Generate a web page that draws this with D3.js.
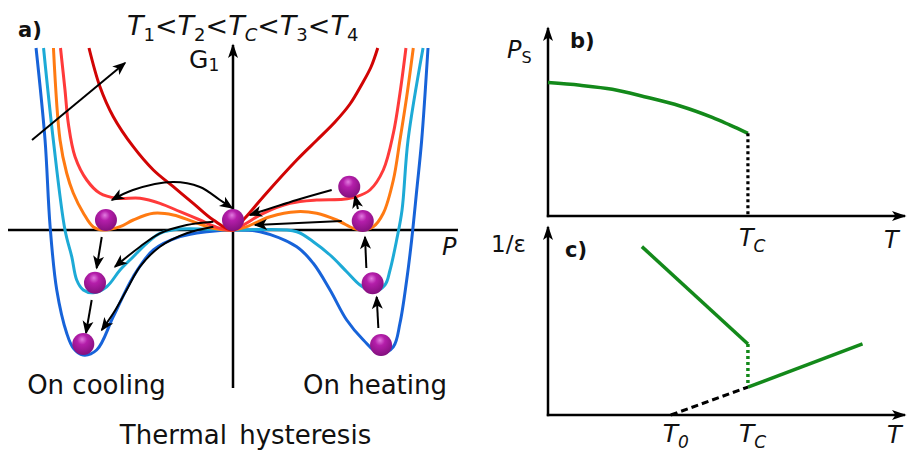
<!DOCTYPE html>
<html>
<head>
<meta charset="utf-8">
<script src="https://cdn.jsdelivr.net/npm/d3@7"></script>
<style>
  body { margin: 0; background: #fff; }
  svg { display: block; }
  text { font-family: "DejaVu Sans", Verdana, sans-serif; fill: #111; }
</style>
</head>
<body>
<svg id="chart" width="909" height="454"></svg>
<script>
// ---------- a) Landau free energy G1(P), reduced units ----------
// T1 < T2 < Tc < T3 < T4
const gT1 = [[-1.313,1.82],[-1.253,0.90],[-1.22,0.05],[-1.175,-0.60],[-1.109,-1.03],[-1.065,-1.18],[-1.0,-1.25],
  [-0.909,-1.20],[-0.798,-0.867],[-0.665,-0.467],[-0.531,-0.20],[-0.353,-0.067],[-0.175,-0.017],[0,0],
  [0.18,-0.017],[0.425,-0.167],[0.535,-0.333],[0.647,-0.60],[0.758,-0.90],[0.869,-1.10],[0.98,-1.24],
  [1.069,-1.167],[1.113,-0.933],[1.158,-0.50],[1.191,-0.10],[1.225,0.40],[1.258,0.90],[1.30,1.82]];
const gT2 = [[-1.263,1.82],[-1.198,0.90],[-1.12,0],[-1.075,-0.267],[-1.042,-0.50],[-0.998,-0.60],[-0.931,-0.627],
  [-0.842,-0.567],[-0.753,-0.40],[-0.665,-0.267],[-0.575,-0.133],[-0.487,-0.033],[-0.353,0.01],[0,0],
  [0.202,0.005],[0.425,-0.017],[0.535,-0.117],[0.647,-0.25],[0.758,-0.417],[0.847,-0.55],[0.935,-0.617],
  [1.013,-0.55],[1.047,-0.40],[1.091,-0.10],[1.127,0.20],[1.167,0.90],[1.267,1.82]];
const gTc = [[-1.197,1.82],[-1.153,0.90],[-1.109,0.57],[-1.065,0.37],[-0.998,0.17],[-0.931,0.03],[-0.865,0],
  [-0.753,0.033],[-0.665,0.10],[-0.531,0.167],[-0.398,0.15],[-0.265,0.083],[-0.131,0.017],[0,0],
  [0.091,0.033],[0.247,0.133],[0.425,0.183],[0.558,0.167],[0.691,0.10],[0.802,0.017],[0.847,0],
  [0.935,0.033],[1.002,0.167],[1.069,0.50],[1.113,0.90],[1.158,1.333],[1.202,1.82]];
const gT3 = [[-1.15,1.82],[-1.12,1.40],[-1.098,1.067],[-1.053,0.733],[-0.975,0.50],[-0.887,0.367],[-0.775,0.317],
  [-0.62,0.317],[-0.487,0.267],[-0.353,0.183],[-0.22,0.10],[-0.087,0.017],[0,0],
  [0.069,0.05],[0.202,0.167],[0.38,0.267],[0.558,0.30],[0.735,0.307],[0.825,0.333],[0.913,0.40],
  [1.002,0.60],[1.069,0.967],[1.113,1.367],[1.153,1.82]];
const gT4 = [[-0.96,1.82],[-0.887,1.433],[-0.798,1.133],[-0.665,0.833],[-0.531,0.60],[-0.398,0.433],
  [-0.265,0.267],[-0.131,0.10],[0,0],[0.08,0.12],[0.202,0.333],[0.425,0.70],[0.56,0.90],[0.68,1.08],
  [0.78,1.26],[0.86,1.46],[0.92,1.63],[0.965,1.82]];
const curveColors = ["#1763d9", "#1daad6", "#ff7a12", "#ff3a3a", "#d10404"];

// state of the system (ball centres) on cooling and on heating
const ballsCooling = [[-0.847,0.10],[-0.92,-0.527],[-0.998,-1.14]];
const ballsHeating = [[0.775,0.433],[0.865,0.09],[0.931,-0.533],[0.987,-1.15]];
const ballOrigin = [[0,0.10]];

// transition paths
const arrowsSingle = [
  [[-1.34,0.90],[-0.72,1.67]],                                               // increasing T
  [[0.658,0.40],[0.425,0.30],[0.113,0.15]],
  [[0.725,0.09],[0.147,0.05]],
  [[0.833,0.21],[0.813,0.34]],
  [[0.889,-0.38],[0.88,-0.07]],
  [[0.969,-0.98],[0.958,-0.67]],
  [[-0.875,-0.07],[-0.909,-0.38]],
  [[-0.942,-0.70],[-0.98,-1.03]],
  [[-0.131,0.083],[-0.309,0.05],[-0.487,-0.033],[-0.62,-0.167],[-0.787,-0.367]],
  [[-0.131,0.033],[-0.309,-0.033],[-0.487,-0.167],[-0.62,-0.367],[-0.709,-0.60],[-0.798,-0.833],[-0.875,-1.0]]
];
const arrowsDouble = [
  [[-0.807,0.30],[-0.667,0.40],[-0.40,0.48],[-0.22,0.43],[-0.087,0.30],[-0.007,0.22]]
];

// ---------- b) spontaneous polarisation Ps(T) ----------
const Tc = 0.56;
const T0 = 0.344;
const psT = [0, 0.09, 0.18, 0.27, 0.37, 0.46, 0.51, 0.56];
const psVal = [0.702, 0.688, 0.667, 0.628, 0.579, 0.519, 0.478, 0.435];

// ---------- c) inverse permittivity 1/eps(T) ----------
const invEpsFerro = [[0.263, 0.886], [0.56, 0.374]];
const invEpsPara = [[0.56, 0.147], [0.881, 0.374]];
const curieWeiss = [[T0, 0], [0.56, 0.147]];

// ---------------------------------------------------------------
const svg = d3.select("#chart");
const defs = svg.append("defs");

function addMarker(id, len, half, notch) {
  defs.append("marker")
    .attr("id", id)
    .attr("viewBox", `${-len - 1} ${-half - 1} ${len + 3} ${2 * half + 2}`)
    .attr("refX", 0).attr("refY", 0)
    .attr("markerWidth", len + 3).attr("markerHeight", 2 * half + 2)
    .attr("markerUnits", "userSpaceOnUse")
    .attr("orient", "auto-start-reverse")
    .append("path")
    .attr("d", `M1.5,0 L${-len},${-half} L${-len + notch},0 L${-len},${half} Z`)
    .attr("fill", "#000");
}
addMarker("headSmall", 12, 5.5, 3.5);
addMarker("headAxis", 13, 5, 3.5);

const grad = defs.append("radialGradient").attr("id", "ball")
  .attr("cx", "45%").attr("cy", "35%").attr("r", "65%").attr("fx", "45%").attr("fy", "28%");
grad.append("stop").attr("offset", "0%").attr("stop-color", "#e27be0");
grad.append("stop").attr("offset", "35%").attr("stop-color", "#b41eaa");
grad.append("stop").attr("offset", "100%").attr("stop-color", "#84107e");

function subLabel(g, px, py, main, sub, size, subSize, italicMain, italicSub, drop, anchor) {
  const t = g.append("text").attr("x", px).attr("y", py)
    .attr("font-size", size).attr("text-anchor", anchor || "start");
  t.append("tspan").text(main).attr("font-style", italicMain ? "italic" : "normal");
  t.append("tspan").text(sub).attr("font-size", subSize).attr("dy", drop)
    .attr("font-style", italicSub ? "italic" : "normal");
  return t;
}

// ===================== panel a =====================
const x = d3.scaleLinear().domain([-1.5, 1.5]).range([8, 458]);
const y = d3.scaleLinear().domain([-1.6, 1.9]).range([390, 40]);
const ga = svg.append("g");

// axes
ga.append("line").attr("x1", x(-1.5)).attr("x2", x(1.5)).attr("y1", y(0)).attr("y2", y(0))
  .attr("stroke", "#000").attr("stroke-width", 2.5);
ga.append("line").attr("x1", x(0)).attr("x2", x(0)).attr("y1", y(-1.58)).attr("y2", y(1.85))
  .attr("stroke", "#000").attr("stroke-width", 2.5).attr("marker-end", "url(#headAxis)");

const gLine = d3.line().x(d => x(d[0])).y(d => y(d[1])).curve(d3.curveCatmullRom.alpha(0.5));
[gT1, gT2, gTc, gT3, gT4].forEach((c, i) => {
  ga.append("path").attr("d", gLine(c)).attr("fill", "none")
    .attr("stroke", curveColors[i]).attr("stroke-width", 3)
    .attr("stroke-linejoin", "round").attr("stroke-linecap", "butt");
});

arrowsSingle.forEach(a => {
  ga.append("path").attr("d", gLine(a)).attr("fill", "none")
    .attr("stroke", "#000").attr("stroke-width", 2).attr("marker-end", "url(#headSmall)");
});
arrowsDouble.forEach(a => {
  ga.append("path").attr("d", gLine(a)).attr("fill", "none")
    .attr("stroke", "#000").attr("stroke-width", 2)
    .attr("marker-start", "url(#headSmall)").attr("marker-end", "url(#headSmall)");
});

ga.selectAll("circle.ball").data(ballsCooling.concat(ballsHeating, ballOrigin)).join("circle")
  .attr("class", "ball").attr("cx", d => x(d[0])).attr("cy", d => y(d[1])).attr("r", 11)
  .attr("fill", "url(#ball)");

// labels
ga.append("text").attr("x", 18).attr("y", 37).attr("font-size", 21).attr("font-weight", "bold").text("a)");
{
  const t = ga.append("text").attr("x", 127).attr("y", 35).attr("font-size", 27);
  const parts = [["T","1"],["T","2"],["T","C"],["T","3"],["T","4"]];
  parts.forEach((p, i) => {
    t.append("tspan").text(p[0]).attr("font-style", "italic");
    t.append("tspan").text(p[1]).attr("font-size", 18).attr("dy", 6)
      .attr("font-style", p[1] === "C" ? "italic" : "normal");
    t.append("tspan").text(i < parts.length - 1 ? "<" : "").attr("dy", -6);
  });
}
subLabel(ga, 189, 68, "G", "1", 25, 17, false, false, 3);
ga.append("text").attr("x", 442).attr("y", 255).attr("font-size", 24).attr("font-style", "italic").text("P");
ga.append("text").attr("x", 96.5).attr("y", 394).attr("font-size", 26).attr("text-anchor", "middle").text("On cooling");
ga.append("text").attr("x", 375).attr("y", 394).attr("font-size", 26).attr("text-anchor", "middle").text("On heating");
ga.append("text").attr("x", 245.5).attr("y", 444).attr("font-size", 26).attr("text-anchor", "middle").attr("word-spacing", 4).text("Thermal hysteresis");

// ===================== panel b =====================
const xT = d3.scaleLinear().domain([0, 1]).range([548, 905]);
const yB = d3.scaleLinear().domain([0, 1]).range([216, 26]);
const yC = d3.scaleLinear().domain([0, 1]).range([415, 225]);
const gb = svg.append("g");
const green = "#13891a";

gb.append("line").attr("x1", xT(0) - 1.2).attr("x2", xT(1)).attr("y1", yB(0)).attr("y2", yB(0))
  .attr("stroke", "#000").attr("stroke-width", 2.5).attr("marker-end", "url(#headAxis)");
gb.append("line").attr("x1", xT(0)).attr("x2", xT(0)).attr("y1", yB(0) + 1.2).attr("y2", yB(0.99))
  .attr("stroke", "#000").attr("stroke-width", 2.5).attr("marker-end", "url(#headAxis)");

const psLine = d3.line().x((d, i) => xT(psT[i])).y(d => yB(d)).curve(d3.curveCatmullRom.alpha(0.5));
gb.append("path").attr("d", psLine(psVal)).attr("fill", "none").attr("stroke", green).attr("stroke-width", 3.5);
gb.append("line").attr("x1", xT(Tc)).attr("x2", xT(Tc)).attr("y1", yB(psVal[psVal.length - 1])).attr("y2", yB(0))
  .attr("stroke", "#000").attr("stroke-width", 3.2).attr("stroke-dasharray", "3,3");

subLabel(gb, 507, 58, "P", "S", 24, 16, true, false, 5);
gb.append("text").attr("x", 570).attr("y", 48).attr("font-size", 21).attr("font-weight", "bold").text("b)");
subLabel(gb, xT(Tc) - 9, 246, "T", "C", 24, 17, true, true, 6);
gb.append("text").attr("x", 884).attr("y", 248).attr("font-size", 24).attr("font-style", "italic").text("T");

// ===================== panel c =====================
const gc = svg.append("g");
gc.append("line").attr("x1", xT(0) - 1.2).attr("x2", xT(1)).attr("y1", yC(0)).attr("y2", yC(0))
  .attr("stroke", "#000").attr("stroke-width", 2.5).attr("marker-end", "url(#headAxis)");
gc.append("line").attr("x1", xT(0)).attr("x2", xT(0)).attr("y1", yC(0) + 1.2).attr("y2", yC(0.99))
  .attr("stroke", "#000").attr("stroke-width", 2.5).attr("marker-end", "url(#headAxis)");

const cLine = d3.line().x(d => xT(d[0])).y(d => yC(d[1]));
gc.append("path").attr("d", cLine(invEpsFerro)).attr("fill", "none").attr("stroke", green).attr("stroke-width", 3.5);
gc.append("path").attr("d", cLine(invEpsPara)).attr("fill", "none").attr("stroke", green).attr("stroke-width", 3.5);
gc.append("path").attr("d", cLine([invEpsFerro[1], invEpsPara[0]])).attr("fill", "none")
  .attr("stroke", green).attr("stroke-width", 3.5).attr("stroke-dasharray", "3,3");
gc.append("path").attr("d", cLine(curieWeiss)).attr("fill", "none").attr("stroke", "#000")
  .attr("stroke-width", 3).attr("stroke-dasharray", "7,4");

gc.append("text").attr("x", 491).attr("y", 252).attr("font-size", 23).text("1/ε");
gc.append("text").attr("x", 565).attr("y", 257).attr("font-size", 21).attr("font-weight", "bold").text("c)");
subLabel(gc, xT(T0) - 8, 442, "T", "0", 25, 17, true, true, 6);
subLabel(gc, xT(Tc) - 9, 442, "T", "C", 25, 17, true, true, 6);
gc.append("text").attr("x", 887).attr("y", 443).attr("font-size", 24).attr("font-style", "italic").text("T");
</script>
</body>
</html>
